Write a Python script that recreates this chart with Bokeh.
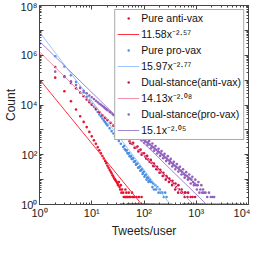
import numpy as np
from bokeh.plotting import figure
from bokeh.models import FixedTicker, LogAxis, Legend, LegendItem, Range1d, ColumnDataSource, CustomJSTickFormatter
from bokeh.embed import file_html
from bokeh.resources import INLINE

# ---------------- data ----------------
series_names = ["Pure anti-vax", "Pure pro-vax", "Dual-stance(anti-vax)", "Dual-stance(pro-vax)"]
fit_labels = ["11.58x\u207b\u00b2\u00b7\u2075\u2077", "15.97x\u207b\u00b2\u00b7\u2077\u2077",
              "14.13x\u207b\u00b2\u00b7\u2070\u2078", "15.1x\u207b\u00b2\u00b7\u2070\u2075"]
fit_a = [11.58, 15.97, 14.13, 15.1]      # ln of coefficient
fit_b = [-2.57, -2.77, -2.08, -2.05]

anti_x = [1, 2, 3, 4, 5, 6, 7, 8, 9, 10, 11, 12, 13, 14, 15, 16, 17, 18, 19, 20,
          21, 22, 23, 24, 25, 26, 27, 28, 29, 30, 31, 32, 33, 34, 35, 36, 37, 38, 40, 41,
          43, 44, 45, 46, 47, 49, 51, 52, 55, 59, 60, 63, 66, 72, 80, 90,
          36, 39, 42, 48, 50, 53, 56, 58, 62, 65, 68, 70, 74, 77, 83, 87, 95, 101, 108, 115, 124, 137, 152]
anti_y = [890000, 126000, 35500, 14100, 6600, 3550, 2090, 1290, 830, 550, 380, 275, 200, 151, 115, 89, 71, 56, 46, 36,
          30, 25, 21, 18, 15, 13, 11, 10, 9, 8, 7, 6, 8, 5, 4, 6, 3, 4, 3, 2,
          2, 4, 2, 3, 2, 2, 3, 2, 2, 3, 2, 2, 2, 2, 2, 2,
          1, 1, 1, 1, 1, 1, 1, 1, 1, 1, 1, 1, 1, 1, 1, 1, 1, 1, 1, 1, 1, 1, 1]

pro_x = [1, 2, 3, 4, 5, 6, 7, 8, 9, 10, 11, 12, 13, 14, 15, 16, 17, 18, 19, 20,
         22, 24, 26, 28, 30, 33, 36, 40, 45, 50, 55, 60, 66, 72, 80, 88, 96, 105, 115, 125, 135,
         42, 43, 47, 48, 52, 53, 57, 58, 62, 64, 68, 70, 75, 77, 84, 85, 92, 94, 100, 102,
         110, 112, 120, 122, 130, 140, 145, 150, 155, 165, 170, 180, 190, 200, 210, 225, 240, 255, 270,
         140, 150, 162, 175, 188, 200, 215, 232, 250, 270, 290, 312, 335]
pro_y = [2820000, 912000, 355000, 158000, 85000, 50000, 31600, 21400, 15100, 11200, 8500, 6600, 5250, 4170, 3470,
         2880, 2400, 2040, 1740, 1510,
         1150, 890, 710, 560, 470, 355, 275, 204, 148, 110, 85, 68, 52, 42, 31, 24, 19, 15, 12, 9, 8,
         230, 165, 150, 118, 118, 88, 90, 68, 72, 52, 56, 40, 44, 30, 34, 23, 27, 17, 21, 13,
         16, 10, 12, 8, 10, 8, 5, 7, 4, 6, 4, 5, 3, 4, 3, 3, 2, 3, 2,
         1, 1, 1, 1, 1, 1, 1, 1, 1, 1, 1, 1, 1]

dual_anti_x = [1, 2, 3, 4, 5, 6, 7, 8, 9, 10, 12, 14, 16, 18, 20, 23, 26, 30, 35, 40,
               46, 53, 60, 70, 80, 92, 105, 120, 140, 160, 185, 210, 240, 275, 315, 360, 410, 470, 540, 620,
               50, 55, 62, 66, 75, 78, 86, 90, 100, 110, 115, 128, 135, 150, 155, 172, 178, 198, 205, 228,
               235, 260, 268, 300, 305, 345, 350, 395, 400, 450, 455, 520, 525, 600, 610, 680, 700, 780, 850, 950,
               560, 620, 680, 740, 800, 870, 940, 1020, 1100, 1200, 1300, 1420]
dual_anti_y = [1000000, 339000, 141000, 75900, 46800, 31600, 22400, 16600, 12900, 10200, 7080, 5130, 3890, 3090,
               2510, 1910, 1480, 1120, 813, 617,
               468, 347, 269, 195, 148, 112, 85, 65, 47, 35, 26, 20, 15, 12, 9, 7, 5, 4, 3, 3,
               460, 290, 300, 190, 215, 135, 160, 100, 115, 70, 90, 52, 62, 35, 44, 26, 33, 19, 25, 14,
               19, 10, 14, 8, 11, 6, 9, 4, 7, 3, 6, 3, 4, 2, 3, 2, 3, 2, 2, 2,
               1, 1, 1, 1, 1, 1, 1, 1, 1, 1, 1, 1]

dual_pro_x = [1, 2, 3, 4, 5, 6, 7, 8, 9, 10, 11, 12, 13, 14, 15, 16, 17, 18, 19, 20,
              22, 23, 25, 26, 28, 30, 33, 35, 38, 40, 43, 46, 50, 53, 57, 60, 65, 70, 75, 80,
              86, 92, 98, 105, 112, 120, 130, 140, 150, 160, 172, 185, 197, 210, 225, 240, 257, 275, 295, 315,
              335, 360, 385, 410, 440, 470, 505, 540, 580, 620, 665, 710, 760, 810, 870, 930, 1000, 1060, 1200, 1400,
              55, 58, 63, 67, 72, 77, 83, 89, 95, 101, 108, 116, 125, 135, 145, 155, 166, 178, 190, 203,
              217, 232, 248, 265, 285, 305, 325, 348, 372, 397, 425, 455, 488, 522, 560, 600, 640, 690, 735, 785,
              840, 900, 960, 1030, 1100, 1150, 1250, 1300, 1350, 1500, 1620, 1750, 1900, 2050, 2200,
              1500, 1640, 1800, 1970, 2150, 2350, 2580, 2820, 3100, 3400, 3750, 4100, 4500, 5000, 5600, 6300, 7200, 8300]
dual_pro_y = [500000, 219000, 135000, 89000, 63000, 47900, 37200, 29500, 24000, 20400, 17400, 14800, 12900, 11200,
              10200, 9100, 8300, 7400, 6800, 6200,
              5400, 5000, 4300, 4070, 3550, 3160, 2690, 2400, 2090, 1900, 1660, 1480, 1290, 1150, 1020, 933, 813, 724, 645, 575,
              513, 447, 407, 363, 324, 288, 257, 224, 200, 178, 158, 138, 126, 112, 100, 89, 78, 69, 60, 54,
              48, 42, 37, 33, 30, 26, 23, 20, 17, 15, 14, 12, 11, 10, 8, 7, 6, 6, 4, 3,
              1400, 760, 1120, 600, 920, 480, 700, 380, 560, 300, 460, 240, 360, 180, 285, 145, 225, 112, 175, 90,
              140, 72, 110, 56, 88, 44, 68, 34, 52, 26, 42, 21, 33, 16, 26, 12, 20, 10, 16, 7,
              13, 6, 10, 4, 8, 3, 6, 3, 4, 3, 2, 3, 2, 2, 2,
              1, 1, 1, 1, 1, 1, 1, 1, 1, 1, 1, 1, 1, 1, 1, 1, 1, 1]

dot_colors = ["#E8112D", "#4B8FE2", "#C8184A", "#9161BE"]
line_colors = ["#FF3040", "#9CC3FF", "#EC93AA", "#A585CF"]

xs_all = [anti_x, pro_x, dual_anti_x, dual_pro_x]
ys_all = [anti_y, pro_y, dual_anti_y, dual_pro_y]

x_major = [1, 10, 100, 1000, 10000]
y_major = [1, 10, 100, 1000, 10000, 100000, 1000000, 10000000, 100000000]
x_labels = {1: "10\u2070", 10: "10\u00b9", 100: "10\u00b2", 1000: "10\u00b3", 10000: "10\u2074"}
y_labels = {1: "10\u2070", 10: "", 100: "10\u00b2", 1000: "", 10000: "10\u2074", 100000: "",
            1000000: "10\u2076", 10000000: "", 100000000: "10\u2078"}

FONT = "Liberation Sans Narrow, Liberation Sans, Arial, sans-serif"

p = figure(width=250, height=240, x_axis_type="log", y_axis_type="log",
           x_range=Range1d(1, 1e4), y_range=Range1d(1, 1e8),
           output_backend="svg", toolbar_location=None,
           min_border_left=2, min_border_right=2, min_border_top=5, min_border_bottom=2)
p.grid.visible = False
p.outline_line_color = "#444444"
p.background_fill_color = "white"
p.border_fill_color = "white"

def minors(majors):
    out = []
    for m in majors[:-1]:
        for k in range(2, 10):
            out.append(m * k)
    return out

items = []
for i in range(4):
    src = ColumnDataSource(dict(x=xs_all[i], y=ys_all[i]))
    r_dot = p.scatter("x", "y", source=src, size=2.6, marker="circle",
                      fill_color=dot_colors[i], line_color=None)
    lx = np.array([1.0, 1e4])
    ly = np.exp(fit_a[i]) * lx ** fit_b[i]
    r_line = p.line(lx, ly, line_color=line_colors[i], line_width=1)
    items.append(LegendItem(label=series_names[i], renderers=[r_dot]))
    items.append(LegendItem(label=fit_labels[i], renderers=[r_line]))

def style_axis(ax):
    ax.axis_line_color = "#444444"
    ax.major_tick_line_color = "#444444"
    ax.minor_tick_line_color = "#444444"
    ax.major_tick_in = 4
    ax.major_tick_out = 0
    ax.minor_tick_in = 2
    ax.minor_tick_out = 0
    ax.major_label_text_font = FONT
    ax.major_label_text_font_size = "11px"
    ax.major_label_text_color = "#222222"
    ax.major_label_standoff = 2
    ax.axis_label_text_font = FONT
    ax.axis_label_text_font_size = "12px"
    ax.axis_label_text_font_style = "normal"
    ax.axis_label_text_color = "#222222"
    ax.axis_label_standoff = 2

xt = FixedTicker(ticks=x_major, minor_ticks=minors(x_major))
yt = FixedTicker(ticks=y_major, minor_ticks=minors(y_major))

p.xaxis.ticker = xt
p.yaxis.ticker = yt
p.xaxis.major_label_overrides = x_labels
p.yaxis.major_label_overrides = y_labels
p.xaxis.axis_label = "Tweets/user"
p.yaxis.axis_label = "Count"
style_axis(p.xaxis[0])
style_axis(p.yaxis[0])
p.yaxis.axis_label_standoff = 0

top = LogAxis(ticker=xt, formatter=CustomJSTickFormatter(code="return '';"))
right = LogAxis(ticker=yt, formatter=CustomJSTickFormatter(code="return '';"))
for ax in (top, right):
    style_axis(ax)
    ax.major_label_text_font_size = "1px"
    ax.major_label_standoff = 0
p.add_layout(top, "above")
p.add_layout(right, "right")

legend = Legend(items=items, location="top_right")
legend.label_text_font = FONT
legend.label_text_font_size = "10.5px"
legend.label_text_color = "#111111"
legend.glyph_width = 22
legend.glyph_height = 6
legend.label_height = 12
legend.label_standoff = 2
legend.spacing = 3
legend.padding = 2
legend.margin = 4
legend.border_line_color = "#555555"
legend.border_line_width = 1
legend.background_fill_alpha = 1
p.add_layout(legend, "center")

open("out.html", "w").write(file_html(p, INLINE))
